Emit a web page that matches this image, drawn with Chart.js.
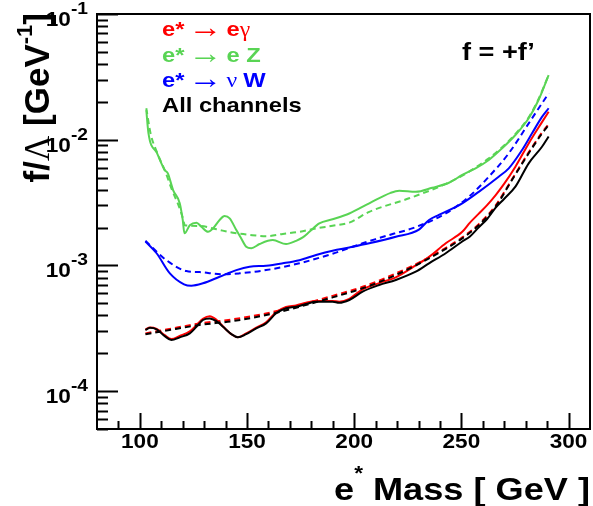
<!DOCTYPE html>
<html>
<head>
<meta charset="utf-8">
<script src="https://cdn.jsdelivr.net/npm/chart.js@4"></script>
<style>
  body { margin: 0; background: #ffffff; }
  canvas { display: block; }
</style>
</head>
<body>
<canvas id="limit-chart" width="593" height="506"></canvas>
<script>
// excited electron coupling limits, f = +f'
const massObs = [102.6, 104.7, 107.8, 111.6, 114.7, 118.6, 123.3, 126.4, 129.4, 132.6, 135.7, 138.8, 142.7, 145.7, 149.6, 154.3, 158.9, 163.6, 168.2, 172.9, 177.5, 182.2, 189.9, 193, 197.7, 203.9, 211.6, 219.4, 228.7, 234.9, 242.7, 250.4, 254, 258, 262, 266, 270, 275.2, 281.4, 287.6, 290.7];
const allObs = [0.000306, 0.000319, 0.000310, 0.000274, 0.000255, 0.000268, 0.000288, 0.000325, 0.000368, 0.000379, 0.000361, 0.000325, 0.000284, 0.000268, 0.000284, 0.000316, 0.000346, 0.000416, 0.000456, 0.000469, 0.000493, 0.000514, 0.000514, 0.000505, 0.000531, 0.000618, 0.000698, 0.000766, 0.000891, 0.00104, 0.00125, 0.00155, 0.00170, 0.00200, 0.00234, 0.00288, 0.00339, 0.00423, 0.00649, 0.00879, 0.0106];
const eGammaObs = [0.000309, 0.000321, 0.000313, 0.000279, 0.000260, 0.000275, 0.000299, 0.000335, 0.000376, 0.000394, 0.000370, 0.000327, 0.000284, 0.000268, 0.000288, 0.000320, 0.000353, 0.000425, 0.000468, 0.000481, 0.000505, 0.000522, 0.000522, 0.000515, 0.000543, 0.000646, 0.000724, 0.000804, 0.00100, 0.00117, 0.00150, 0.00185, 0.00219, 0.00257, 0.00302, 0.00363, 0.00447, 0.00610, 0.00935, 0.0138, 0.0167];

const massExp = [102.6, 112.4, 127.9, 143.4, 158.9, 174.4, 189.9, 203.9, 219.4, 234.9, 250.4, 258.1, 265.9, 273.6, 281.4, 287.6, 290.7];
const allExp = [0.000283, 0.000303, 0.000336, 0.000361, 0.000403, 0.000469, 0.000557, 0.000658, 0.000839, 0.00114, 0.00164, 0.00209, 0.00293, 0.00478, 0.00780, 0.0112, 0.0131];
const eGammaExp = [0.000288, 0.000309, 0.000345, 0.000373, 0.000415, 0.000483, 0.000573, 0.000676, 0.000863, 0.00116, 0.00167, 0.00213, 0.00299, 0.00484, 0.00794, 0.0114, 0.0133];

const eZMassObs = [103, 104, 108, 111.6, 113, 115.5, 118.6, 120, 120.8, 123.3, 126.4, 128.7, 131.8, 134.1, 137.2, 139.5, 141.9, 145, 147.3, 149.6, 152, 155.8, 162, 168.2, 172.9, 176, 179.1, 183.7, 189.9, 197.7, 207, 217, 221, 228.7, 236.4, 244.2, 250.4, 256.6, 262.8, 269, 275.2, 281.4, 286, 290.7];
const eZObs = [0.0172, 0.0113, 0.00783, 0.00574, 0.00543, 0.00398, 0.00313, 0.00230, 0.00180, 0.00209, 0.00219, 0.00203, 0.00185, 0.00197, 0.00230, 0.00247, 0.00237, 0.00191, 0.00164, 0.00141, 0.00137, 0.00148, 0.00159, 0.00148, 0.00157, 0.00167, 0.00185, 0.00216, 0.00233, 0.00259, 0.00312, 0.00378, 0.00393, 0.00385, 0.00415, 0.00455, 0.00524, 0.00592, 0.00690, 0.00855, 0.0109, 0.0148, 0.0207, 0.0327];
const eZMassExp = [103, 105, 108, 112, 115, 118, 120, 121, 128, 135.7, 143.4, 151.2, 158.9, 166.7, 174.4, 182.2, 189.9, 197.7, 207, 225.6, 242.7, 250, 262.8, 269, 275.2, 281.4, 286, 290.7];
const eZExp = [0.0178, 0.0112, 0.00794, 0.00550, 0.00398, 0.00302, 0.00240, 0.00209, 0.00206, 0.00194, 0.00182, 0.00175, 0.00171, 0.00178, 0.00185, 0.00197, 0.00207, 0.00219, 0.00267, 0.00342, 0.00445, 0.00513, 0.00711, 0.00871, 0.0111, 0.0151, 0.0211, 0.0327];

const nuWMassObs = [102.6, 107.8, 114, 120.6, 124, 129.4, 137.2, 145, 151.2, 158.9, 166.7, 174.4, 182.2, 189.9, 197.7, 207, 219.4, 230.2, 234.9, 239.5, 250.4, 258.1, 267.4, 272.1, 278.3, 282.9, 287.6, 290.7];
const nuWObs = [0.00155, 0.00125, 0.000865, 0.000708, 0.000690, 0.000721, 0.000813, 0.000918, 0.000977, 0.000995, 0.00104, 0.00110, 0.00121, 0.00131, 0.00139, 0.00150, 0.00169, 0.00193, 0.00230, 0.00252, 0.00312, 0.00385, 0.00508, 0.00592, 0.00828, 0.0112, 0.0152, 0.0178];
const nuWMassExp = [102.6, 112.4, 121.7, 127.9, 138.8, 146.5, 158.9, 174.4, 189.9, 203.9, 210, 219, 227, 242.7, 253.5, 262.8, 272.1, 281.4, 290.7];
const nuWExp = [0.00157, 0.00110, 0.000902, 0.000885, 0.000849, 0.000865, 0.000918, 0.00104, 0.00124, 0.00150, 0.00162, 0.00180, 0.00197, 0.00259, 0.00352, 0.00508, 0.00780, 0.0135, 0.0234];

const xTickLabels = [100, 150, 200, 250, 300];
const yExponents = [-1, -2, -3, -4];

const RED = "#ff0000";
const GREEN = "#59d454";
const BLUE = "#0000ff";
const BLACK = "#000000";
const SANS = "'Liberation Sans', Arial, Helvetica, sans-serif";
const SERIF = "'Liberation Serif', 'Times New Roman', serif";
const SX = 1.13; // ROOT text looks a bit wide in the picture

function points(xs, ys) {
  return xs.map((x, i) => ({ x: x, y: ys[i] }));
}

function curve(xs, ys, color, dashed) {
  return {
    data: points(xs, ys),
    showLine: true,
    borderColor: color,
    borderWidth: 2,
    borderDash: dashed ? [6, 4] : [],
    pointRadius: 0,
    fill: false,
    cubicInterpolationMode: "monotone"
  };
}

// draws pieces of text one after another; align "right" ends the run at x
function drawRun(ctx, pieces, x, y, opts) {
  opts = opts || {};
  ctx.save();
  ctx.translate(x, y);
  ctx.scale(opts.sx || SX, 1);
  if (opts.rot) ctx.rotate(opts.rot);
  ctx.textBaseline = "alphabetic";
  ctx.textAlign = "left";
  let total = 0;
  pieces.forEach((p) => {
    ctx.font = p.font;
    total += ctx.measureText(p.t).width;
  });
  let cx = 0;
  if (opts.align === "right") cx = -total;
  if (opts.align === "center") cx = -total / 2;
  pieces.forEach((p) => {
    ctx.font = p.font;
    ctx.fillStyle = p.color || opts.color || BLACK;
    ctx.fillText(p.t, cx, p.dy || 0);
    cx += ctx.measureText(p.t).width;
  });
  ctx.restore();
}

const decorPlugin = {
  id: "decor",
  afterDatasetsDraw(chart) {
    const ctx = chart.ctx;
    const a = chart.chartArea;
    const xs = chart.scales.x;
    const ys = chart.scales.y;

    ctx.save();
    ctx.strokeStyle = BLACK;
    ctx.lineWidth = 2;
    ctx.strokeRect(a.left, a.top, a.right - a.left, a.bottom - a.top);

    // x ticks, pointing in
    ctx.beginPath();
    for (let v = 90; v <= 300; v += 10) {
      const px = Math.round(xs.getPixelForValue(v)) + 0.5;
      const len = v % 50 === 0 ? 16 : 8;
      ctx.moveTo(px, a.bottom);
      ctx.lineTo(px, a.bottom - len);
    }
    // y ticks, decades and 2..9
    for (let e = -5; e <= -1; e++) {
      for (let m = 1; m <= 9; m++) {
        const v = m * Math.pow(10, e);
        if (v < ys.min * 0.999 || v > ys.max * 1.001) continue;
        const py = Math.round(ys.getPixelForValue(v)) + 0.5;
        const len = m === 1 ? 21 : 11;
        ctx.moveTo(a.left, py);
        ctx.lineTo(a.left + len, py);
      }
    }
    ctx.stroke();
    ctx.restore();

    // x tick labels
    xTickLabels.forEach((v) => {
      drawRun(ctx, [{ t: String(v), font: "bold 20px " + SANS }],
        xs.getPixelForValue(v), a.bottom + 19, { align: "center" });
    });

    // y tick labels 10^n
    yExponents.forEach((e) => {
      const py = ys.getPixelForValue(Math.pow(10, e));
      drawRun(ctx, [
        { t: "10", font: "bold 20px " + SANS, dy: 12 },
        { t: String(e), font: "bold 17px " + SANS, dy: 0 }
      ], 88, py, { align: "right" });
    });

    // axis titles
    drawRun(ctx, [
      { t: "e", font: "bold 32px " + SANS },
      { t: "*", font: "bold 20px " + SANS, dy: -20 },
      { t: " Mass [ GeV ]", font: "bold 32px " + SANS }
    ], a.right, 500, { align: "right" });

    drawRun(ctx, [
      { t: "f/", font: "bold 35px " + SANS },
      { t: "\u039B", font: "35px " + SERIF },
      { t: " [GeV", font: "bold 35px " + SANS },
      { t: "-1", font: "bold 22px " + SANS, dy: -17 },
      { t: "]", font: "bold 35px " + SANS }
    ], 49, 13, { align: "right", rot: -Math.PI / 2, sx: 1.0 });

    // legend text
    const bold = "bold 21px " + SANS;
    const sym = "21px " + SERIF;
    const gap = { t: " ", font: "bold 13px " + SANS };
    const arrow = [gap, { t: "\u2192", font: "30px " + SERIF, dy: 1 }, gap];
    drawRun(ctx, [{ t: "e*", font: bold }].concat(arrow, [
      { t: "e", font: bold }, { t: "\u03B3", font: sym }
    ]), 162, 36, { color: RED });
    drawRun(ctx, [{ t: "e*", font: bold }].concat(arrow, [
      { t: "e Z", font: bold }
    ]), 162, 62, { color: GREEN });
    drawRun(ctx, [{ t: "e*", font: bold }].concat(arrow, [
      { t: "\u03BD ", font: sym }, { t: "W", font: bold }
    ]), 162, 87, { color: BLUE });
    drawRun(ctx, [{ t: "All channels", font: bold }], 162, 112, { color: BLACK });

    drawRun(ctx, [{ t: "f = +f\u2019", font: "bold 24px " + SANS }], 462, 60, { color: BLACK });
  }
};

new Chart(document.getElementById("limit-chart"), {
  type: "scatter",
  data: {
    // first dataset is drawn on top
    datasets: [
      curve(massObs, allObs, BLACK, false),
      curve(massExp, allExp, BLACK, true),
      curve(massObs, eGammaObs, RED, false),
      curve(massExp, eGammaExp, RED, true),
      curve(nuWMassObs, nuWObs, BLUE, false),
      curve(nuWMassExp, nuWExp, BLUE, true),
      curve(eZMassObs, eZObs, GREEN, false),
      curve(eZMassExp, eZExp, GREEN, true)
    ]
  },
  options: {
    responsive: false,
    animation: false,
    devicePixelRatio: 1,
    layout: { padding: { left: 97, top: 14, right: 3, bottom: 77 } },
    plugins: {
      legend: { display: false },
      tooltip: { enabled: false }
    },
    scales: {
      x: { type: "linear", min: 80, max: 310, display: false },
      y: { type: "logarithmic", min: 5e-5, max: 0.1, display: false }
    }
  },
  plugins: [decorPlugin]
});
</script>
</body>
</html>
